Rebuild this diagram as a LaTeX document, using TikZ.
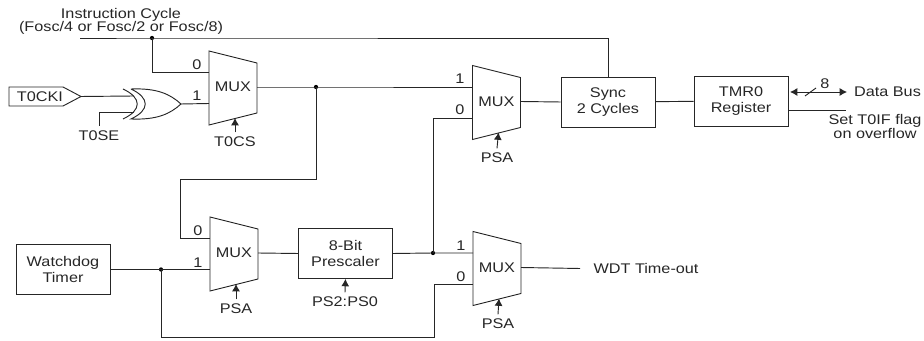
\documentclass[tikz,border=0pt]{standalone}
\usepackage{fontspec}
\setmainfont[FakeStretch=1.16]{Liberation Sans}
\usetikzlibrary{arrows.meta}
\def\muxoutline{(-24,-37) -- (24,-25) -- (24,25) -- (-24,37) -- cycle}
\def\xorback{(-29,-15) .. controls (-10,-6) and (-10,6) .. (-29,15)}
\def\xorbody{(-21,-15) .. controls (-2,-6) and (-2,6) .. (-21,15) .. controls (5,16) and (18,10) .. (29,0) .. controls (18,-10) and (5,-16) .. (-21,-15)}
\def\pinoutline{(-31,-9.5) -- (23,-9.5) -- (41,0) -- (23,9.5) -- (-31,9.5) -- cycle}
\tikzset{
    wire/.style={draw=black!85,line width=0.7pt},
    selwire/.style={wire,-{Latex[length=5.5pt,width=6pt]}},
    buswire/.style={wire,{Latex[length=5.5pt,width=6pt]}-{Latex[length=5.5pt,width=6pt]}},
    blockbox/.style={draw=black!85,line width=0.7pt,minimum width=70.5pt,minimum height=37.5pt,inner sep=0pt,align=center,font=\fontsize{10.5}{11.6}\selectfont,text=black!85},
    lbl/.style={font=\fontsize{10.5}{9.8}\selectfont,text=black!85,align=center},
    dotnode/.style={circle,fill=black,inner sep=0pt,minimum size=3.2pt},
    muxpic/.pic={
        \draw[wire] \muxoutline;
        \node[lbl] (-text) at (0,-1) {MUX};
        \coordinate (-intop) at (-24,-15.5);
        \coordinate (-inbot) at (-24,15.5);
        \coordinate (-out) at (24,-1);
        \coordinate (-sel) at (2,30);
    },
    xorpic/.pic={
        \draw[wire] \xorback;
        \draw[wire] \xorbody;
        \coordinate (-intop) at (-18,-8);
        \coordinate (-inbot) at (-18,8);
        \coordinate (-out) at (29,0);
    },
    pinpic/.pic={
        \draw[wire] \pinoutline;
        \node[lbl] (-text) at (0,0) {T0CKI};
        \coordinate (-tip) at (41,0);
    }
}

\begin{document}
\begin{tikzpicture}[x=0.75pt,y=-0.75pt]
    \useasboundingbox (0,0) rectangle (924,341);

    \pic (m1) at (233,88) {muxpic};
    \pic (m2) at (496.5,102.5) {muxpic};
    \pic (m3) at (234,254) {muxpic};
    \pic (m4) at (497,268.5) {muxpic};
    \pic (xg) at (152,104) {xorpic};
    \pic (pin) at (40,96.5) {pinpic};

    \node[blockbox] (sync) at (608,102) {Sync\\2 Cycles};
    \node[blockbox] (tmr) at (741,101) {TMR0\\Register};
    \node[blockbox] (wdog) at (63,269.5) {Watchdog\\Timer};
    \node[blockbox] (prescaler) at (345.5,253.5) {8-Bit\\Prescaler};

    \node[lbl] (clktext) at (121,21) {Instruction Cycle\\(Fosc/4 or Fosc/2 or Fosc/8)};
    \node[lbl] (t0se) at (99,136) {T0SE};
    \node[lbl] (t0cs) at (235,142) {T0CS};
    \node[lbl] (psa2) at (497,158) {PSA};
    \node[lbl] (psa3) at (236,309) {PSA};
    \node[lbl] (psa4) at (498,324) {PSA};
    \node[lbl] (psbits) at (345,302) {PS2:PS0};
    \node[lbl] (databus) at (887.5,92) {Data Bus};
    \node[lbl] (flagtext) at (875,126.5) {Set T0IF flag\\on overflow};
    \node[lbl] (wdttext) at (646,268) {WDT Time-out};
    \node[lbl] (buswidth) at (825,84) {8};

    \node[lbl] (m1zero) at (197,65) {0};
    \node[lbl] (m1one) at (197,96) {1};
    \node[lbl] (m2one) at (460,79) {1};
    \node[lbl] (m2zero) at (460,110) {0};
    \node[lbl] (m3zero) at (198,231) {0};
    \node[lbl] (m3one) at (198,263) {1};
    \node[lbl] (m4one) at (461,246) {1};
    \node[lbl] (m4zero) at (461,277) {0};

    \node[dotnode] (jnclk) at (152,38) {};
    \node[dotnode] (jnfb) at (316,87) {};
    \node[dotnode] (jnwd) at (161,269.5) {};
    \node[dotnode] (jnps) at (433,253) {};

    \coordinate (clkstart) at (80,38);
    \coordinate (fbcorner) at (180,179);
    \coordinate (wdcorner) at (434,337);
    \coordinate (wdtend) at (580,268.5);
    \coordinate (busleft) at (790,92);
    \coordinate (busright) at (847,92);
    \coordinate (slasha) at (805,96);
    \coordinate (slashb) at (816,88);
    \coordinate (flagstart) at (788,110);
    \coordinate (flagend) at (846,110);

    \draw[wire] (clkstart) -- (jnclk.center) -| (sync.north);
    \draw[wire] (jnclk.center) |- (m1-intop);
    \draw[wire] (pin-tip) -- (xg-intop);
    \draw[wire] (xg-inbot) -| (t0se.north);
    \draw[wire] (xg-out) -- (m1-inbot);
    \draw[wire] (m1-out) -- (jnfb.center) -- (m2-intop);
    \draw[wire] (jnfb.center) |- (fbcorner) |- (m3-intop);
    \draw[wire] (wdog.east) -- (jnwd.center) -- (m3-inbot);
    \draw[wire] (jnwd.center) |- (wdcorner) |- (m4-inbot);
    \draw[wire] (m3-out) -- (prescaler.west);
    \draw[wire] (prescaler.east) -- (jnps.center) -- (m4-intop);
    \draw[wire] (jnps.center) |- (m2-inbot);
    \draw[wire] (m2-out) -- (sync.west);
    \draw[wire] (sync) -- (tmr);
    \draw[wire] (m4-out) -- (wdtend);
    \draw[buswire] (busleft) -- (busright);
    \draw[wire] (slasha) -- (slashb);
    \draw[wire] (flagstart) -- (flagend);

    \draw[selwire] (t0cs.north) -- (m1-sel);
    \draw[selwire] (psa2.north) -- (m2-sel);
    \draw[selwire] (psa3.north) -- (m3-sel);
    \draw[selwire] (psa4.north) -- (m4-sel);
    \draw[selwire] (psbits.north) -- (prescaler.south);
\end{tikzpicture}
\end{document}
